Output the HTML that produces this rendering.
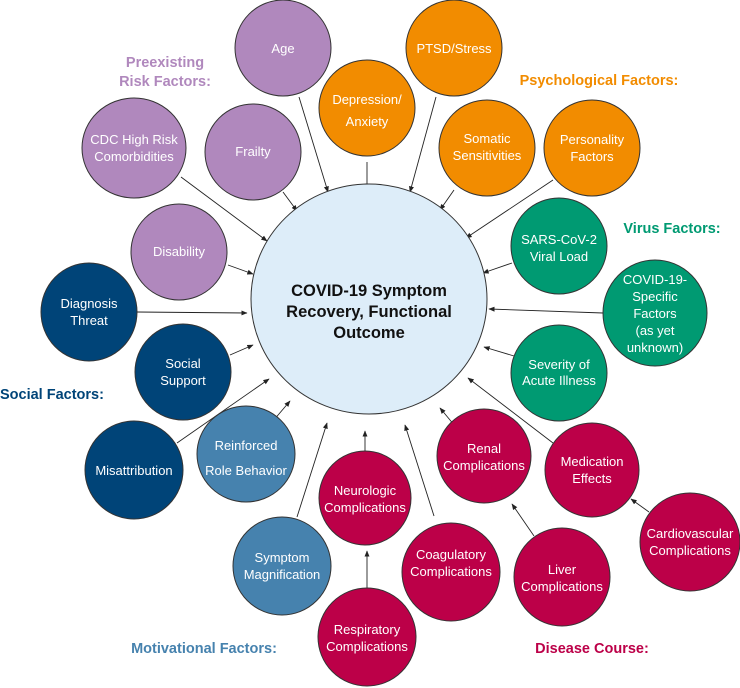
<!DOCTYPE html>
<html><head><meta charset="utf-8"><style>
body{margin:0;background:#fff;}
svg{display:block;font-family:"Liberation Sans",Arial,sans-serif;}
.t{fill:#fff;font-size:13px;text-anchor:middle;}
.l{font-size:14.5px;font-weight:bold;}
circle,ellipse{stroke:#333;stroke-width:1;}
line{stroke:#222;stroke-width:0.9;marker-end:url(#a);}
</style></head><body>
<svg width="740" height="688" viewBox="0 0 740 688">
<defs><marker id="a" viewBox="0 0 10 10" refX="9" refY="5" markerWidth="7" markerHeight="7" orient="auto"><path d="M0,1 L10,5 L0,9 z" fill="#222"/></marker></defs>
<g>
<line x1="299" y1="97" x2="328" y2="192"/>
<line x1="367" y1="162" x2="367" y2="189"/>
<line x1="436" y1="97" x2="410" y2="192"/>
<line x1="454" y1="190" x2="440" y2="210"/>
<line x1="553" y1="180" x2="466" y2="238"/>
<line x1="181" y1="177" x2="267" y2="241"/>
<line x1="283" y1="192" x2="297" y2="211"/>
<line x1="228" y1="265" x2="253" y2="274"/>
<line x1="137" y1="312" x2="247" y2="313"/>
<line x1="512" y1="263" x2="483" y2="273"/>
<line x1="603" y1="313" x2="489" y2="309"/>
<line x1="514" y1="356" x2="484" y2="347"/>
<line x1="230" y1="355" x2="253" y2="345"/>
<line x1="177" y1="443" x2="269" y2="379"/>
<line x1="273" y1="421" x2="290" y2="401"/>
<line x1="297" y1="517" x2="327" y2="423"/>
<line x1="365" y1="456" x2="365" y2="431"/>
<line x1="367" y1="589" x2="367" y2="551"/>
<line x1="434" y1="516" x2="405" y2="425"/>
<line x1="455" y1="426" x2="440" y2="408"/>
<line x1="553" y1="443" x2="468" y2="378"/>
<line x1="534" y1="536" x2="512" y2="504"/>
<line x1="649" y1="512" x2="631" y2="499"/>
</g>
<ellipse cx="369" cy="299" rx="118" ry="115" fill="#DDEDF9"/>
<g fill="#B088BD">
<ellipse cx="283" cy="48" rx="48" ry="48"/>
<ellipse cx="134" cy="148" rx="52" ry="50"/>
<ellipse cx="253" cy="152" rx="48" ry="48"/>
<ellipse cx="179" cy="252" rx="48" ry="48"/>
</g>
<g fill="#F28C00">
<ellipse cx="454" cy="48" rx="48" ry="48"/>
<ellipse cx="367" cy="108" rx="48" ry="48"/>
<ellipse cx="487" cy="148" rx="48" ry="48"/>
<ellipse cx="592" cy="148" rx="48" ry="48"/>
</g>
<g fill="#009A72">
<ellipse cx="559" cy="246" rx="48" ry="48"/>
<ellipse cx="655" cy="313" rx="52" ry="53"/>
<ellipse cx="559" cy="373" rx="48" ry="48"/>
</g>
<g fill="#004478">
<ellipse cx="89" cy="312" rx="48" ry="49"/>
<ellipse cx="183" cy="372" rx="48" ry="48"/>
<ellipse cx="134" cy="470" rx="49" ry="49"/>
</g>
<g fill="#4682AE">
<ellipse cx="246" cy="454" rx="49" ry="48"/>
<ellipse cx="282" cy="566" rx="49" ry="49"/>
</g>
<g fill="#BC0048">
<ellipse cx="365" cy="498" rx="46" ry="47"/>
<ellipse cx="367" cy="637" rx="49" ry="49"/>
<ellipse cx="451" cy="572" rx="49" ry="49"/>
<ellipse cx="484" cy="456" rx="47" ry="47"/>
<ellipse cx="592" cy="470" rx="47" ry="47"/>
<ellipse cx="562" cy="577" rx="48" ry="49"/>
<ellipse cx="690" cy="542" rx="50" ry="49"/>
</g>
<g font-weight="bold" font-size="16.5" fill="#111" text-anchor="middle">
<text x="369" y="296">COVID-19 Symptom</text>
<text x="369" y="317">Recovery, Functional</text>
<text x="369" y="338">Outcome</text>
</g>
<g class="t">
<text class="t" x="283" y="53">Age</text>
<text class="t" x="454" y="53">PTSD/Stress</text>
<text class="t" x="367" y="104">Depression/</text><text class="t" x="367" y="126">Anxiety</text>
<text class="t" x="134" y="144">CDC High Risk</text><text class="t" x="134" y="161">Comorbidities</text>
<text class="t" x="253" y="156">Frailty</text>
<text class="t" x="487" y="143">Somatic</text><text class="t" x="487" y="160">Sensitivities</text>
<text class="t" x="592" y="144">Personality</text><text class="t" x="592" y="161">Factors</text>
<text class="t" x="179" y="256">Disability</text>
<text class="t" x="559" y="244">SARS-CoV-2</text><text class="t" x="559" y="261">Viral Load</text>
<text class="t" x="655" y="284">COVID-19-</text><text class="t" x="655" y="301">Specific</text><text class="t" x="655" y="318">Factors</text><text class="t" x="655" y="335">(as yet</text><text class="t" x="655" y="352">unknown)</text>
<text class="t" x="559" y="369">Severity of</text><text class="t" x="559" y="385">Acute Illness</text>
<text class="t" x="89" y="308">Diagnosis</text><text class="t" x="89" y="325">Threat</text>
<text class="t" x="183" y="368">Social</text><text class="t" x="183" y="385">Support</text>
<text class="t" x="134" y="475">Misattribution</text>
<text class="t" x="246" y="459" dy="-9">Reinforced</text><text class="t" x="246" y="475">Role Behavior</text>
<text class="t" x="282" y="562">Symptom</text><text class="t" x="282" y="579">Magnification</text>
<text class="t" x="365" y="495">Neurologic</text><text class="t" x="365" y="512">Complications</text>
<text class="t" x="367" y="634">Respiratory</text><text class="t" x="367" y="651">Complications</text>
<text class="t" x="451" y="559">Coagulatory</text><text class="t" x="451" y="576">Complications</text>
<text class="t" x="484" y="453">Renal</text><text class="t" x="484" y="470">Complications</text>
<text class="t" x="592" y="466">Medication</text><text class="t" x="592" y="483">Effects</text>
<text class="t" x="562" y="574">Liver</text><text class="t" x="562" y="591">Complications</text>
<text class="t" x="690" y="538">Cardiovascular</text><text class="t" x="690" y="555">Complications</text>
</g>
<g class="l">
<text class="l" x="165" y="67" text-anchor="middle" fill="#B088BD">Preexisting</text>
<text class="l" x="165" y="86" text-anchor="middle" fill="#B088BD">Risk Factors:</text>
<text class="l" x="599" y="85" text-anchor="middle" fill="#F28C00">Psychological Factors:</text>
<text class="l" x="672" y="233" text-anchor="middle" fill="#009A72">Virus Factors:</text>
<text class="l" x="0" y="399" fill="#004478">Social Factors:</text>
<text class="l" x="204" y="653" text-anchor="middle" fill="#4682AE">Motivational Factors:</text>
<text class="l" x="592" y="653" text-anchor="middle" fill="#BC0048">Disease Course:</text>
</g>
</svg>
</body></html>
